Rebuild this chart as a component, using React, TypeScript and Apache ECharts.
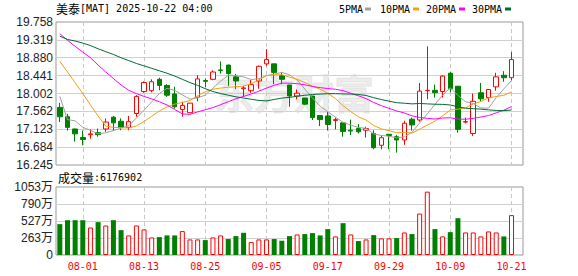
import React, { useEffect, useRef } from "react";
import * as echarts from "echarts";

const dates = [
  "07-29","07-30","07-31","08-01","08-04","08-05","08-06","08-07","08-08","08-11",
  "08-12","08-13","08-14","08-15","08-18","08-19","08-20","08-21","08-22","08-25",
  "08-26","08-27","08-28","08-29","09-02","09-03","09-04","09-05","09-08","09-09",
  "09-10","09-11","09-12","09-15","09-16","09-17","09-18","09-19","09-22","09-23",
  "09-24","09-25","09-26","09-29","09-30","10-01","10-02","10-03","10-06","10-07",
  "10-08","10-09","10-10","10-13","10-14","10-15","10-16","10-17","10-20","10-21",
];
const dateTicks = ["08-01","08-13","08-25","09-05","09-17","09-29","10-09","10-21"];

const open = [
  17.66,17.43,17.13,16.92,16.99,17.04,17.13,17.42,17.32,17.17,
  17.51,18.05,18.07,18.35,18.20,17.99,17.61,17.53,17.91,18.32,
  18.35,18.58,18.70,18.41,18.12,18.07,18.31,18.73,18.73,18.435,
  18.21,17.94,17.89,17.94,17.46,17.45,17.34,17.28,17.10,17.14,
  17.10,17.02,16.73,17.00,16.94,16.86,17.37,17.35,18.07,18.08,
  18.05,18.50,18.18,17.30,17.02,18.02,17.90,18.165,18.45,18.39,
];
const close = [
  17.43,17.17,17.01,16.87,17.01,16.99,17.30,17.28,17.17,17.31,
  17.93,18.27,18.29,18.20,17.96,17.675,17.71,17.765,18.36,18.30,
  18.53,18.57,18.49,18.31,18.14,18.22,18.67,18.835,18.52,18.35,
  17.94,18.01,17.74,17.41,17.36,17.24,17.36,17.07,17.08,17.06,
  17.14,16.67,16.915,16.97,16.86,17.27,17.23,18.06,18.08,18.02,
  18.43,18.12,17.12,17.31,17.81,17.87,18.10,18.41,18.39,18.835,
];
const low = [
  17.30,17.09,16.82,16.73,16.89,16.94,17.06,17.08,17.10,17.10,
  17.43,18.02,18.03,18.08,17.92,17.63,17.43,17.53,17.81,18.16,
  18.33,18.49,18.19,18.11,17.92,18.02,18.12,18.68,18.23,18.23,
  17.675,17.86,17.72,17.35,17.20,17.09,17.12,16.94,16.98,17.02,
  16.92,16.63,16.63,16.63,16.55,16.74,17.09,17.31,17.86,17.90,
  17.90,18.03,17.04,17.27,16.96,17.81,17.80,18.07,18.29,18.33,
];
const high = [
  17.77,17.50,17.14,17.09,17.12,17.14,17.39,17.45,17.39,17.45,
  17.96,18.30,18.35,18.39,18.23,18.17,17.80,17.77,18.45,18.37,
  18.57,18.79,18.71,18.48,18.19,18.33,18.69,19.09,18.73,18.52,
  18.21,18.10,17.89,17.94,17.46,17.55,17.41,17.28,17.36,17.25,
  17.185,17.10,16.97,17.00,16.98,17.33,17.41,18.26,19.16,18.22,
  18.45,18.53,18.18,17.41,18.00,18.26,18.10,18.51,18.55,19.02,
];
const volume = [
  4780000,5390000,5390000,5390000,4260000,5090000,4570000,5390000,3850000,3030000,
  4570000,3960000,2720000,2770000,3030000,3030000,3700000,2410000,2410000,2310000,
  2720000,3030000,2470000,2930000,3440000,2000000,2410000,2410000,2470000,2210000,
  2930000,3180000,3240000,3390000,3030000,4010000,2880000,4930000,3180000,2160000,
  2410000,3080000,2570000,2570000,2620000,3490000,3240000,6420000,9810000,4010000,
  2880000,3540000,5700000,3490000,3490000,2880000,3650000,3490000,2880000,6176902,
];
const ma5 = [
  17.93,17.36,17.33,17.17,17.098,17.01,17.036,17.09,17.15,17.21,
  17.398,17.592,17.794,18.0,18.13,18.079,17.967,17.862,17.894,17.962,
  18.133,18.305,18.45,18.44,18.408,18.346,18.366,18.435,18.477,18.519,
  18.463,18.331,18.112,17.89,17.692,17.552,17.422,17.292,17.226,17.166,
  17.146,17.008,16.971,16.951,16.911,16.937,17.049,17.278,17.5,17.732,
  17.964,18.142,17.954,17.8,17.758,17.646,17.642,17.9,18.116,18.321,
];
const ma10 = [
  18.79,18.53,18.27,18.0,17.72,17.45,17.2,17.17,17.16,17.154,
  17.204,17.314,17.442,17.575,17.67,17.739,17.781,17.829,17.947,18.046,
  18.106,18.135,18.156,18.167,18.185,18.24,18.336,18.443,18.459,18.464,
  18.405,18.349,18.274,18.184,18.106,18.008,17.877,17.702,17.558,17.429,
  17.349,17.215,17.133,17.089,17.039,17.042,17.029,17.126,17.226,17.322,
  17.451,17.596,17.616,17.65,17.745,17.805,17.892,17.927,17.958,18.04,
];
const ma20 = [
  19.47,19.31,19.16,19.02,18.88,18.7,18.53,18.37,18.21,18.08,
  18.0,17.93,17.87,17.8,17.72,17.61,17.5,17.49,17.55,17.601,
  17.656,17.726,17.8,17.872,17.929,17.99,18.059,18.135,18.203,18.255,
  18.255,18.242,18.215,18.175,18.145,18.124,18.106,18.072,18.008,17.946,
  17.876,17.781,17.703,17.636,17.572,17.524,17.452,17.413,17.391,17.375,
  17.399,17.405,17.374,17.369,17.391,17.423,17.46,17.526,17.592,17.68,
];
const ma30 = [
  19.41,19.33,19.29,19.24,19.18,19.1,19.03,18.96,18.88,18.81,
  18.74,18.68,18.62,18.56,18.5,18.43,18.35,18.27,18.2,18.12,
  18.05,18.0,17.96,17.92,17.89,17.86,17.83,17.82,17.855,17.889,
  17.906,17.934,17.958,17.976,17.988,17.996,17.998,17.991,17.988,17.979,
  17.953,17.899,17.854,17.813,17.776,17.763,17.747,17.756,17.747,17.738,
  17.734,17.719,17.674,17.64,17.629,17.618,17.599,17.585,17.58,17.596,
];

const priceMin = 16.245;
const priceMax = 19.758;
const volMax = 10530000;
const maNames = ["5PMA", "10PMA", "20PMA", "30PMA"];
const maColors = ["#a0a0a0", "#f0a010", "#ff00ff", "#006b33"];

const RED = "#ff0000";
const GREEN = "#008000";
const MONO = "DejaVu Sans Mono";
const CJK = "Noto Sans CJK SC";

function buildOption(): any {
  const cats = [...dates, ""];
  const isTick = (_i: number, v: string) => dateTicks.indexOf(v) >= 0;
  const xAxisBase = (gridIndex: number) => ({
    type: "category",
    gridIndex,
    data: cats,
    boundaryGap: true,
    axisLine: { show: false },
    axisTick: { show: false },
    axisLabel: {
      show: gridIndex === 1,
      interval: isTick,
      color: RED,
      fontFamily: MONO,
      fontSize: 10,
      margin: 6,
    },
    splitLine: {
      show: true,
      alignWithLabel: true,
      interval: isTick,
      lineStyle: { color: "#c8c8c8", type: [4, 3], width: 1 },
    },
  });

  const candles = dates.map((_, i) => [open[i], close[i], low[i], high[i]]);
  const volData = volume.map((v, i) => {
    const up = i === 0 ? close[0] >= open[0] : close[i] >= close[i - 1];
    return {
      value: v,
      itemStyle: up
        ? { color: "#ffffff", borderColor: RED, borderWidth: 1 }
        : { color: GREEN, borderColor: GREEN, borderWidth: 0 },
    };
  });
  const maData = [ma5, ma10, ma20, ma30];

  const legendX = [339, 380, 426, 472];
  const markX = [365, 413, 459, 505];
  const legendEls: any[] = [];
  maNames.forEach((n, k) => {
    legendEls.push({
      type: "text",
      x: legendX[k],
      y: 9,
      style: { text: n, font: `10px "${MONO}"`, fill: "#000", verticalAlign: "middle" },
    });
    legendEls.push({
      type: "rect",
      shape: { x: markX[k], y: 7.5, width: 6, height: 3 },
      style: { fill: maColors[k] },
    });
  });

  return {
    animation: false,
    backgroundColor: "#ffffff",
    grid: [
      { left: 56, top: 22, width: 467, height: 143, show: true, borderColor: "#999999", borderWidth: 1, backgroundColor: "transparent" },
      { left: 56, top: 187, width: 467, height: 68, show: true, borderColor: "#999999", borderWidth: 1, backgroundColor: "transparent" },
    ],
    xAxis: [xAxisBase(0), xAxisBase(1)],
    yAxis: [
      {
        type: "value",
        gridIndex: 0,
        min: priceMin,
        max: priceMax,
        interval: (priceMax - priceMin) / 8,
        axisLine: { show: false },
        axisTick: { show: false },
        axisLabel: {
          showMinLabel: true,
          showMaxLabel: true,
          formatter: (v: number) => (Math.round(v * 1000 + 1e-6) / 1000).toFixed(3),
          color: "#222",
          fontFamily: "Liberation Sans",
          fontSize: 12,
          margin: 3,
        },
        splitLine: { show: true, showMinLine: false, showMaxLine: false, lineStyle: { color: "#d0d0d0", width: 1 } },
      },
      {
        type: "value",
        gridIndex: 1,
        min: 0,
        max: volMax,
        interval: volMax / 4,
        axisLine: { show: false },
        axisTick: { show: false },
        axisLabel: {
          showMinLabel: true,
          showMaxLabel: true,
          formatter: (v: number) => (v === 0 ? "0" : Math.round(v / 10000) + "万"),
          color: "#222",
          fontFamily: `Liberation Sans, ${CJK}`,
          fontSize: 12,
          margin: 3,
        },
        splitLine: { show: true, showMinLine: false, showMaxLine: false, lineStyle: { color: "#d0d0d0", width: 1 } },
      },
    ],
    graphic: [
      {
        type: "text",
        x: 56,
        y: 8.5,
        style: {
          text: "{a|美泰}{b|[MAT] 2025-10-22 04:00}",
          verticalAlign: "middle",
          rich: {
            a: { fontFamily: CJK, fontSize: 12, fill: "#000" },
            b: { fontFamily: MONO, fontSize: 10, fill: "#000" },
          },
        },
      },
      ...legendEls,
      {
        type: "text",
        x: 58,
        y: 177,
        style: {
          text: "{a|成交量}{b|:6176902}",
          verticalAlign: "middle",
          rich: {
            a: { fontFamily: CJK, fontSize: 12, fill: "#000" },
            b: { fontFamily: MONO, fontSize: 10, fill: "#000" },
          },
        },
      },
      {
        type: "text",
        x: 294,
        y: 92,
        z: 1,
        style: {
          text: "东方财富",
          align: "center",
          verticalAlign: "middle",
          font: `bold 40px "${CJK}"`,
          fill: "rgba(200,200,200,0.35)",
          stroke: "rgba(235,235,235,0.8)",
          lineWidth: 1,
        },
      },
    ],
    series: [
      {
        type: "candlestick",
        name: "K",
        xAxisIndex: 0,
        yAxisIndex: 0,
        data: candles,
        barWidth: 5,
        z: 3,
        itemStyle: {
          color: "#ffffff",
          color0: GREEN,
          borderColor: RED,
          borderColor0: GREEN,
          borderWidth: 1,
        },
      },
      ...maData.map((d, k) => ({
        type: "line",
        name: maNames[k],
        xAxisIndex: 0,
        yAxisIndex: 0,
        data: d,
        symbol: "none",
        showSymbol: false,
        smooth: false,
        z: 4,
        lineStyle: { color: maColors[k], width: 1 },
        itemStyle: { color: maColors[k] },
      })),
      {
        type: "bar",
        name: "成交量",
        xAxisIndex: 1,
        yAxisIndex: 1,
        data: volData,
        barWidth: 5,
      },
    ],
  };
}

export default function App() {
  const ref = useRef<HTMLDivElement>(null);
  useEffect(() => {
    if (!ref.current) return;
    const chart = echarts.init(ref.current, null, { renderer: "svg" });
    chart.setOption(buildOption());
    return () => chart.dispose();
  }, []);
  return (
    <div
      ref={ref}
      style={{ position: "absolute", left: 0, top: 0, width: 578, height: 276, background: "#fff" }}
    />
  );
}
